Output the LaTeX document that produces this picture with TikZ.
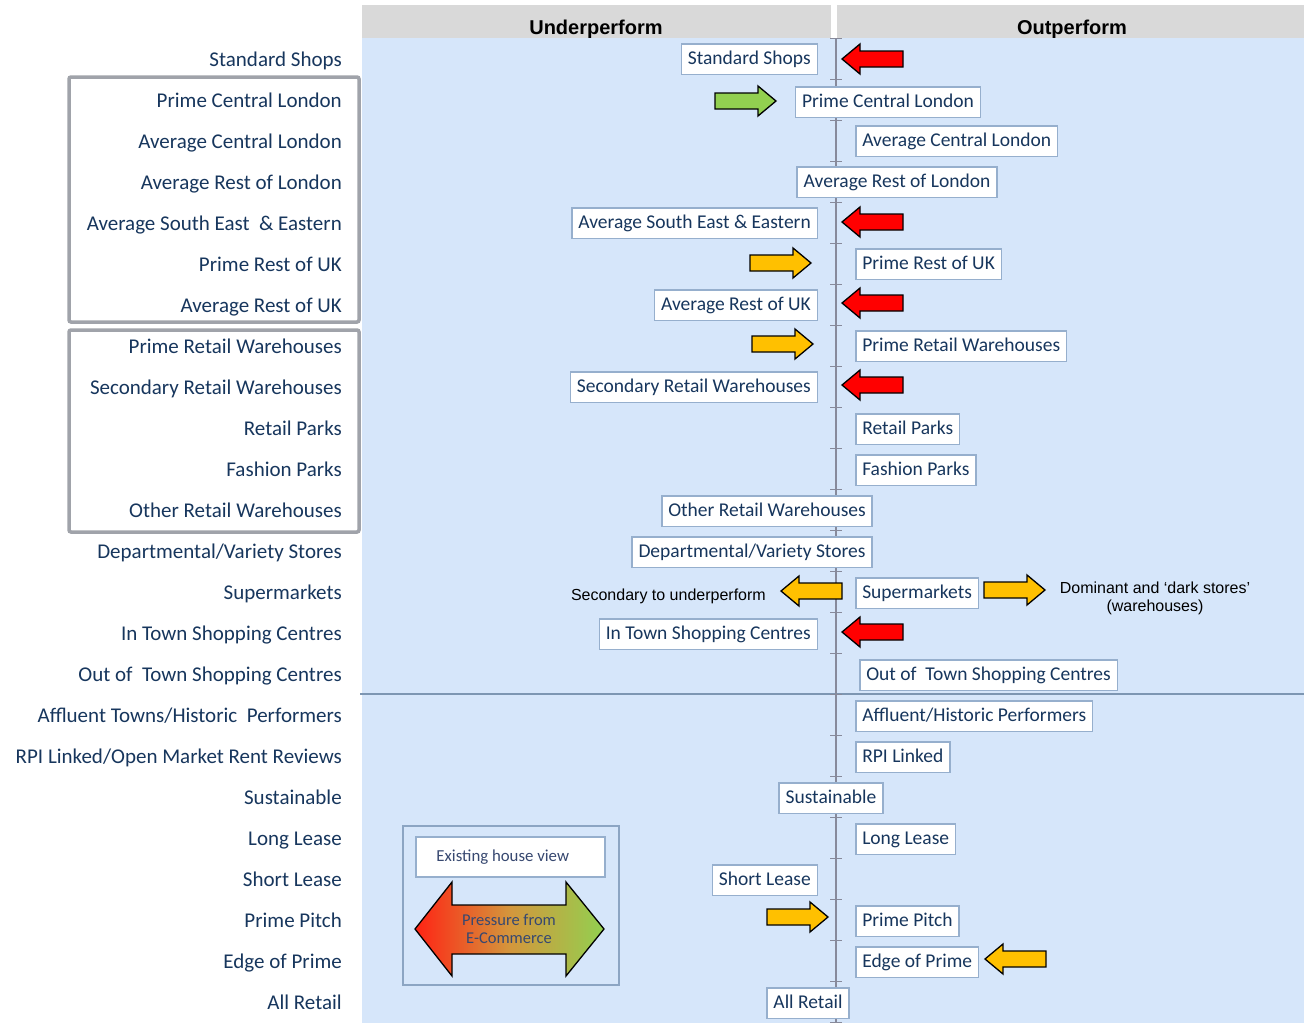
\documentclass[tikz,border=0pt]{standalone}
\usepackage{fontspec}
\setmainfont{Carlito}
\newfontfamily\arialf{Liberation Sans}
\definecolor{bgblue}{RGB}{214,230,250}
\definecolor{hdrgray}{RGB}{217,217,217}
\definecolor{navy}{RGB}{23,54,93}
\definecolor{boxline}{RGB}{150,175,205}
\definecolor{legline}{RGB}{140,165,195}
\definecolor{grpgray}{RGB}{160,163,170}
\definecolor{axisgray}{RGB}{135,138,155}
\definecolor{divline}{RGB}{125,150,178}
\definecolor{aorange}{RGB}{255,192,0}
\definecolor{ared}{RGB}{255,0,0}
\definecolor{agreen}{RGB}{146,208,80}
\definecolor{gradred}{RGB}{255,35,20}
\definecolor{gradmid}{RGB}{212,150,60}
\definecolor{legtext}{RGB}{55,72,112}
\newcommand{\blockarr}[4]{%
 \draw[line width=1.3, fill=#4, line join=miter]
  ({#1-61*(#2)},{#3-8}) -- ({#1-18*(#2)},{#3-8}) -- ({#1-18*(#2)},{#3-15}) --
  ({#1},{#3}) -- ({#1-18*(#2)},{#3+15}) -- ({#1-18*(#2)},{#3+8}) --
  ({#1-61*(#2)},{#3+8}) -- cycle;}
\tikzset{
 lab/.style={anchor=east, inner sep=0, text=navy, text height=15, text depth=4,
   font=\fontsize{21}{25}\selectfont},
 vbox/.style={draw=boxline, line width=1.5, fill=white, text=navy,
   text height=15, text depth=3.5, inner xsep=6.5, inner ysep=6,
   font=\fontsize{19.5}{23}\selectfont},
 hdr/.style={anchor=base, inner sep=0, font=\arialf\bfseries\fontsize{20}{24}\selectfont},
 note/.style={inner sep=0, font=\arialf\fontsize{16}{18}\selectfont}
}
\begin{document}
\begin{tikzpicture}[x=1pt,y=-1pt]
\useasboundingbox (0,0) rectangle (1304,1023);
\fill[white] (0,0) rectangle (1304,1023);
% header
\fill[hdrgray] (362,5) rectangle (831,38);
\fill[hdrgray] (837,5) rectangle (1304,38);
\node[hdr] (hu) at (596,34) {Underperform};
\node[hdr] (ho) at (1072,34) {Outperform};
\fill[bgblue] (362,38) rectangle (1304,1023);
% divider
\draw[divline, line width=2] (360,694) -- (1304,694);
% axis
\draw[axisgray, line width=2] (836,38) -- (836,1023);
\foreach \k in {0,...,24} \draw[axisgray, line width=1.5] (830,{38.5+41*\k}) -- (842,{38.5+41*\k});
% group frames
\draw[grpgray, line width=3.5, rounded corners=2] (69,77) rectangle (359,322);
\draw[grpgray, line width=3.5, rounded corners=2] (69,330) rectangle (359,532);
% left labels
\node[lab] (l1) at (342,61) {Standard Shops};
\node[lab] (l2) at (342,102) {Prime Central London};
\node[lab] (l3) at (342,143) {Average Central London};
\node[lab] (l4) at (342,184) {Average Rest of London};
\node[lab] (l5) at (342,225) {Average South East \ \& Eastern};
\node[lab] (l6) at (342,266) {Prime Rest of UK};
\node[lab] (l7) at (342,307) {Average Rest of UK};
\node[lab] (l8) at (342,348) {Prime Retail Warehouses};
\node[lab] (l9) at (342,389) {Secondary Retail Warehouses};
\node[lab] (l10) at (342,430) {Retail Parks};
\node[lab] (l11) at (342,471) {Fashion Parks};
\node[lab] (l12) at (342,512) {Other Retail Warehouses};
\node[lab] (l13) at (342,553) {Departmental/Variety Stores};
\node[lab] (l14) at (342,594) {Supermarkets};
\node[lab] (l15) at (342,635) {In Town Shopping Centres};
\node[lab] (l16) at (342,676) {Out of \ Town Shopping Centres};
\node[lab] (l17) at (342,717) {Affluent Towns/Historic \ Performers};
\node[lab] (l18) at (342,758) {RPI Linked/Open Market Rent Reviews};
\node[lab] (l19) at (342,799) {Sustainable};
\node[lab] (l20) at (342,840) {Long Lease};
\node[lab] (l21) at (342,881) {Short Lease};
\node[lab] (l22) at (342,922) {Prime Pitch};
\node[lab] (l23) at (342,963) {Edge of Prime};
\node[lab] (l24) at (342,1004) {All Retail};
% boxes
\node[vbox, anchor=east] (b1) at (818,59) {Standard Shops};
\node[vbox] (b2) at (888,102) {Prime Central London};
\node[vbox, anchor=west] (b3) at (855,141) {Average Central London};
\node[vbox] (b4) at (897,182) {Average Rest of London};
\node[vbox, anchor=east] (b5) at (818,223) {Average South East \& Eastern};
\node[vbox, anchor=west] (b6) at (855,264) {Prime Rest of UK};
\node[vbox, anchor=east] (b7) at (818,305) {Average Rest of UK};
\node[vbox, anchor=west] (b8) at (855,346) {Prime Retail Warehouses};
\node[vbox, anchor=east] (b9) at (818,387) {Secondary Retail Warehouses};
\node[vbox, anchor=west] (b10) at (855,429) {Retail Parks};
\node[vbox, anchor=west] (b11) at (855,470) {Fashion Parks};
\node[vbox] (b12) at (767,511) {Other Retail Warehouses};
\node[vbox] (b13) at (752,552) {Departmental/Variety Stores};
\node[vbox, anchor=west] (b14) at (855,593) {Supermarkets};
\node[vbox, anchor=east] (b15) at (818,634) {In Town Shopping Centres};
\node[vbox, anchor=west] (b16) at (859,675) {Out of \ Town Shopping Centres};
\node[vbox, anchor=west] (b17) at (855,716) {Affluent/Historic Performers};
\node[vbox, anchor=west] (b18) at (855,757) {RPI Linked};
\node[vbox] (b19) at (831,798) {Sustainable};
\node[vbox, anchor=west] (b20) at (855,839) {Long Lease};
\node[vbox, anchor=east] (b21) at (818,880) {Short Lease};
\node[vbox, anchor=west] (b22) at (855,921) {Prime Pitch};
\node[vbox, anchor=west] (b23) at (855,962) {Edge of Prime};
\node[vbox] (b24) at (808,1003) {All Retail};
% arrows
\blockarr{842}{-1}{59}{ared}
\blockarr{776}{1}{101}{agreen}
\blockarr{842}{-1}{222}{ared}
\blockarr{811}{1}{263}{aorange}
\blockarr{842}{-1}{303}{ared}
\blockarr{813}{1}{344}{aorange}
\blockarr{842}{-1}{385}{ared}
\blockarr{781}{-1}{591}{aorange}
\blockarr{1045}{1}{590}{aorange}
\blockarr{842}{-1}{632}{ared}
\blockarr{828}{1}{917}{aorange}
\blockarr{985}{-1}{959}{aorange}
% notes
\node[note, anchor=base east] (sec) at (766,600) {Secondary to underperform};
\node[note, align=center] (dom) at (1155,598) {Dominant and ‘dark stores’\\(warehouses)};
% legend
\draw[legline, line width=2, fill=bgblue] (403,826) rectangle (619,985);
\node[draw=boxline, line width=1.5, fill=white, minimum width=189, minimum height=40,
  anchor=north west, text=legtext, font=\fontsize{16.8}{19}\selectfont] (ehv) at (415,836) {\hspace*{-15pt}Existing house view};
\shade[left color=gradred, right color=agreen, middle color=gradmid]
  (415,929) -- (452,882) -- (452,905) -- (566,905) -- (566,882) -- (604,929) --
  (566,976) -- (566,954) -- (452,954) -- (452,976) -- cycle;
\draw[line width=1.3, line join=miter]
  (415,929) -- (452,882) -- (452,905) -- (566,905) -- (566,882) -- (604,929) --
  (566,976) -- (566,954) -- (452,954) -- (452,976) -- cycle;
\node[align=center, text=legtext, inner sep=0, font=\fontsize{16.5}{18}\selectfont] (pec) at (509,929) {Pressure from\\E-Commerce};
\end{tikzpicture}
\end{document}
